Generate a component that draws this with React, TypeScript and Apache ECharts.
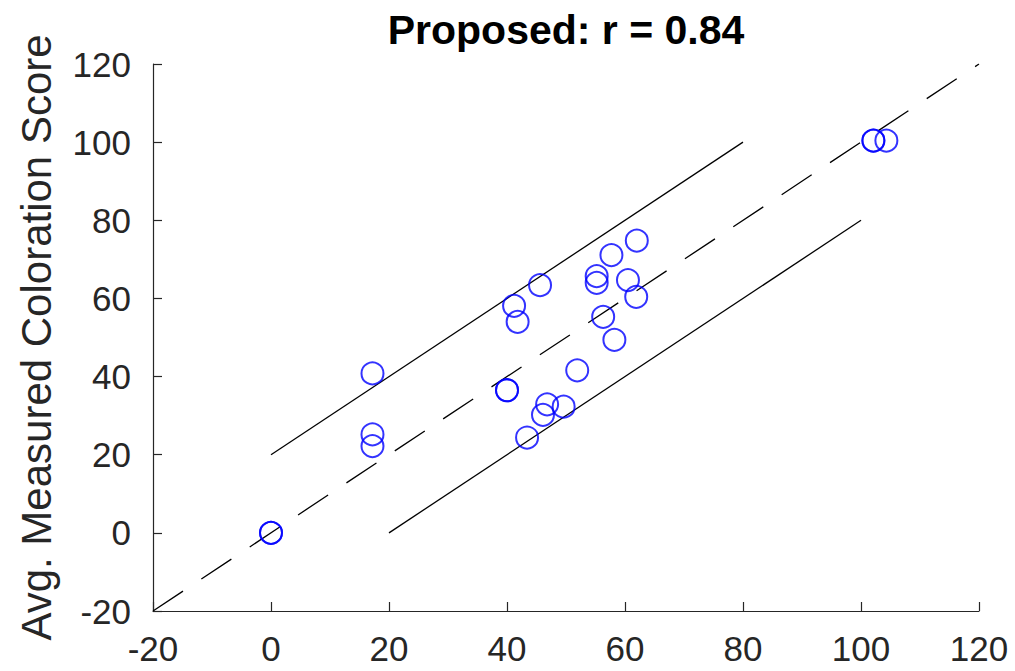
import React, { useEffect, useRef } from "react";
import * as echarts from "echarts";

const measuredX = [0, 0, 17.2, 17.2, 17.2, 40.0, 40.0, 41.2, 41.8, 45.6, 43.4, 46.1, 46.8, 49.6, 51.9, 55.2, 55.2, 57.7, 62.0, 60.5, 61.9, 56.3, 58.2, 102.1, 102.1, 104.3];
const measuredY = [0, 0, 40.8, 25.2, 22.2, 36.5, 36.5, 58.1, 54.0, 63.4, 24.4, 30.2, 32.9, 32.3, 41.6, 65.7, 64.0, 71.1, 74.8, 64.7, 60.4, 55.3, 49.4, 100.4, 100.4, 100.4];

const identityLine = [[-20, -20], [120, 120]];
const upperBand = [[0, 20], [80, 100]];
const lowerBand = [[20, 0], [100, 80]];

const axisMin = -20;
const axisMax = 120;
const axisStep = 20;

const titleText = "Proposed: r = 0.84";
const yAxisName = "Avg. Measured Coloration Score";

export default function App() {
  const ref = useRef<HTMLDivElement>(null);
  useEffect(() => {
    if (!ref.current) return;
    const chart = echarts.init(ref.current, null, { renderer: "svg" });
    const font = "'Liberation Sans', Arial, Helvetica, sans-serif";
    const axisColor = "#262626";
    const axisCommon = {
      type: "value" as const,
      min: axisMin,
      max: axisMax,
      interval: axisStep,
      axisLine: { show: true, onZero: false, lineStyle: { color: axisColor, width: 1.2 } },
      axisTick: { show: true, inside: true, length: 9, lineStyle: { color: axisColor, width: 1.2 } },
      splitLine: { show: false },
      axisLabel: { color: axisColor, fontSize: 35, fontFamily: font },
    };
    const points = measuredX.map((x, i) => [x, measuredY[i]]);
    chart.setOption({
      animation: false,
      backgroundColor: "#ffffff",
      grid: { left: 153, right: 36, top: 64, bottom: 60 },
      xAxis: { ...axisCommon, axisLabel: { ...axisCommon.axisLabel, margin: 20 } },
      yAxis: {
        ...axisCommon,
        axisLabel: { ...axisCommon.axisLabel, margin: 22 },
        name: yAxisName,
        nameLocation: "middle",
        nameGap: 96,
        nameTextStyle: { color: axisColor, fontSize: 42, fontFamily: font },
      },
      graphic: [
        {
          type: "text",
          x: 566,
          y: 9,
          style: {
            text: titleText,
            textAlign: "center",
            textVerticalAlign: "top",
            fontSize: 41,
            fontWeight: "bold",
            fontFamily: font,
            fill: "#000000",
          },
        },
      ],
      series: [
        {
          type: "line",
          data: identityLine,
          symbol: "none",
          lineStyle: { color: "#000000", width: 1.3, type: [36, 22] },
          z: 1,
        },
        {
          type: "line",
          data: upperBand,
          symbol: "none",
          lineStyle: { color: "#000000", width: 1.3 },
          z: 1,
        },
        {
          type: "line",
          data: lowerBand,
          symbol: "none",
          lineStyle: { color: "#000000", width: 1.3 },
          z: 1,
        },
        {
          type: "scatter",
          data: points,
          symbol: "circle",
          symbolSize: 22,
          itemStyle: { color: "rgba(0,0,0,0)", borderColor: "#0000ff", borderWidth: 2 },
          z: 2,
        },
      ],
    });
    return () => chart.dispose();
  }, []);
  return <div ref={ref} style={{ width: 1015, height: 671, position: "absolute", left: 0, top: 0 }} />;
}
